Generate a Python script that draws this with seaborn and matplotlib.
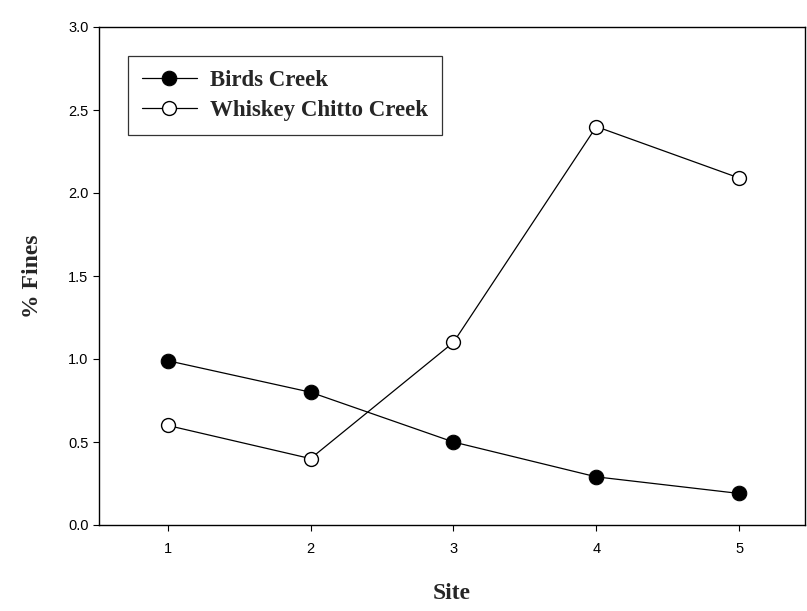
import pandas as pd
import matplotlib.pyplot as plt
import seaborn as sns

# values
sites = [1, 2, 3, 4, 5]
birds_creek = [0.99, 0.80, 0.50, 0.29, 0.19]
whiskey_chitto = [0.60, 0.40, 1.10, 2.40, 2.09]
y_ticks = [0.0, 0.5, 1.0, 1.5, 2.0, 2.5, 3.0]

df = pd.DataFrame({
    'Site': sites * 2,
    'Fines': birds_creek + whiskey_chitto,
    'Creek': ['Birds Creek'] * 5 + ['Whiskey Chitto Creek'] * 5,
})

sns.set_style('ticks')
plt.rcParams['font.family'] = ['Liberation Sans', 'DejaVu Sans']

fig = plt.figure(figsize=(8.07, 6.11), dpi=100)
ax = fig.add_axes([99 / 807, 1 - 525 / 611, 706 / 807, 498 / 611])

sns.lineplot(data=df[df['Creek'] == 'Birds Creek'], x='Site', y='Fines',
             color='black', lw=0.9, marker='o', markersize=10.5,
             markerfacecolor='black', markeredgecolor='black',
             label='Birds Creek', ax=ax)
sns.lineplot(data=df[df['Creek'] == 'Whiskey Chitto Creek'], x='Site', y='Fines',
             color='black', lw=0.9, marker='o', markersize=10,
             markerfacecolor='white', markeredgecolor='black', markeredgewidth=1,
             label='Whiskey Chitto Creek', ax=ax)

ax.set_xlim(0.52, 5.46)
ax.set_ylim(0, 3.0)
ax.set_xticks(sites)
ax.set_yticks(y_ticks)
ax.set_yticklabels([f'{v:.1f}' for v in y_ticks])
ax.tick_params(labelsize=10.5, length=4, width=0.8, direction='out', colors='black')
ax.tick_params(axis='x', pad=8)

for s in ax.spines.values():
    s.set_visible(True)
    s.set_color('black')
    s.set_linewidth(1.0)

serif = ['Liberation Serif', 'DejaVu Serif']
ax.set_xlabel('Site', fontsize=17, fontweight='bold', family=serif, labelpad=20)
ax.set_ylabel('% Fines', fontsize=17, fontweight='bold', family=serif, labelpad=18)

leg = ax.legend(loc='upper left', bbox_to_anchor=(29 / 706, 1 - 29 / 498),
                borderaxespad=0, frameon=True, fancybox=False,
                prop={'family': serif, 'weight': 'bold', 'size': 16.5},
                handlelength=2.4, handletextpad=0.6, labelspacing=0.4,
                borderpad=0.6)
leg.get_frame().set_edgecolor('black')
leg.get_frame().set_linewidth(0.9)

plt.savefig('out.png', dpi=100)
plt.close()
